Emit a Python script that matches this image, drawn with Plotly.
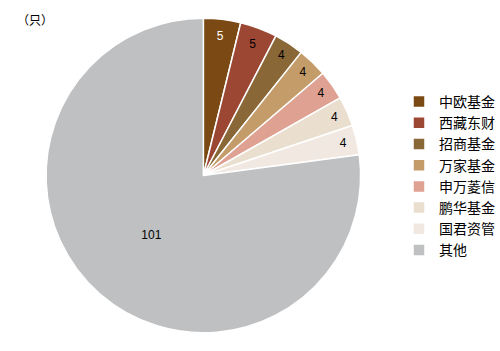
import plotly.graph_objects as go

labels = ["中欧基金", "西藏东财", "招商基金", "万家基金", "申万菱信", "鹏华基金", "国君资管", "其他"]
values = [5, 5, 4, 4, 4, 4, 4, 101]
colors = ["#7B4A14", "#9B4733", "#8A6737", "#C49C69", "#DEA192", "#EADFCF", "#F1E9E1", "#BFC0C2"]
text_colors = ["#FFFFFF", "#000000", "#000000", "#000000", "#000000", "#000000", "#000000", "#000000"]

fig = go.Figure(go.Pie(
    labels=labels, values=values, sort=False, direction="clockwise", rotation=0,
    marker=dict(colors=colors, line=dict(color="#FFFFFF", width=1.5)),
    textinfo="value", textposition="inside", insidetextorientation="horizontal",
    insidetextfont=dict(color=text_colors, size=12, family="Arial, Liberation Sans"),
    domain=dict(x=[47/500, 368/500], y=[1-336/351, 1-15/351]),
    hoverinfo="label+value",
))
fig.update_layout(
    width=500, height=351, margin=dict(l=0, r=0, t=0, b=0),
    paper_bgcolor="white", plot_bgcolor="white",
    font=dict(family="Noto Sans CJK SC, Arial", size=13, color="#000000"),
    legend=dict(x=0.815, y=0.755, xanchor="left", yanchor="top", tracegroupgap=0,
                itemwidth=30, font=dict(size=14), traceorder="normal"),
    annotations=[dict(text="（只）", x=0.03, y=0.975, xref="paper", yref="paper",
                      xanchor="left", yanchor="top", showarrow=False, font=dict(size=12))],
)
fig.write_html("out.html")
